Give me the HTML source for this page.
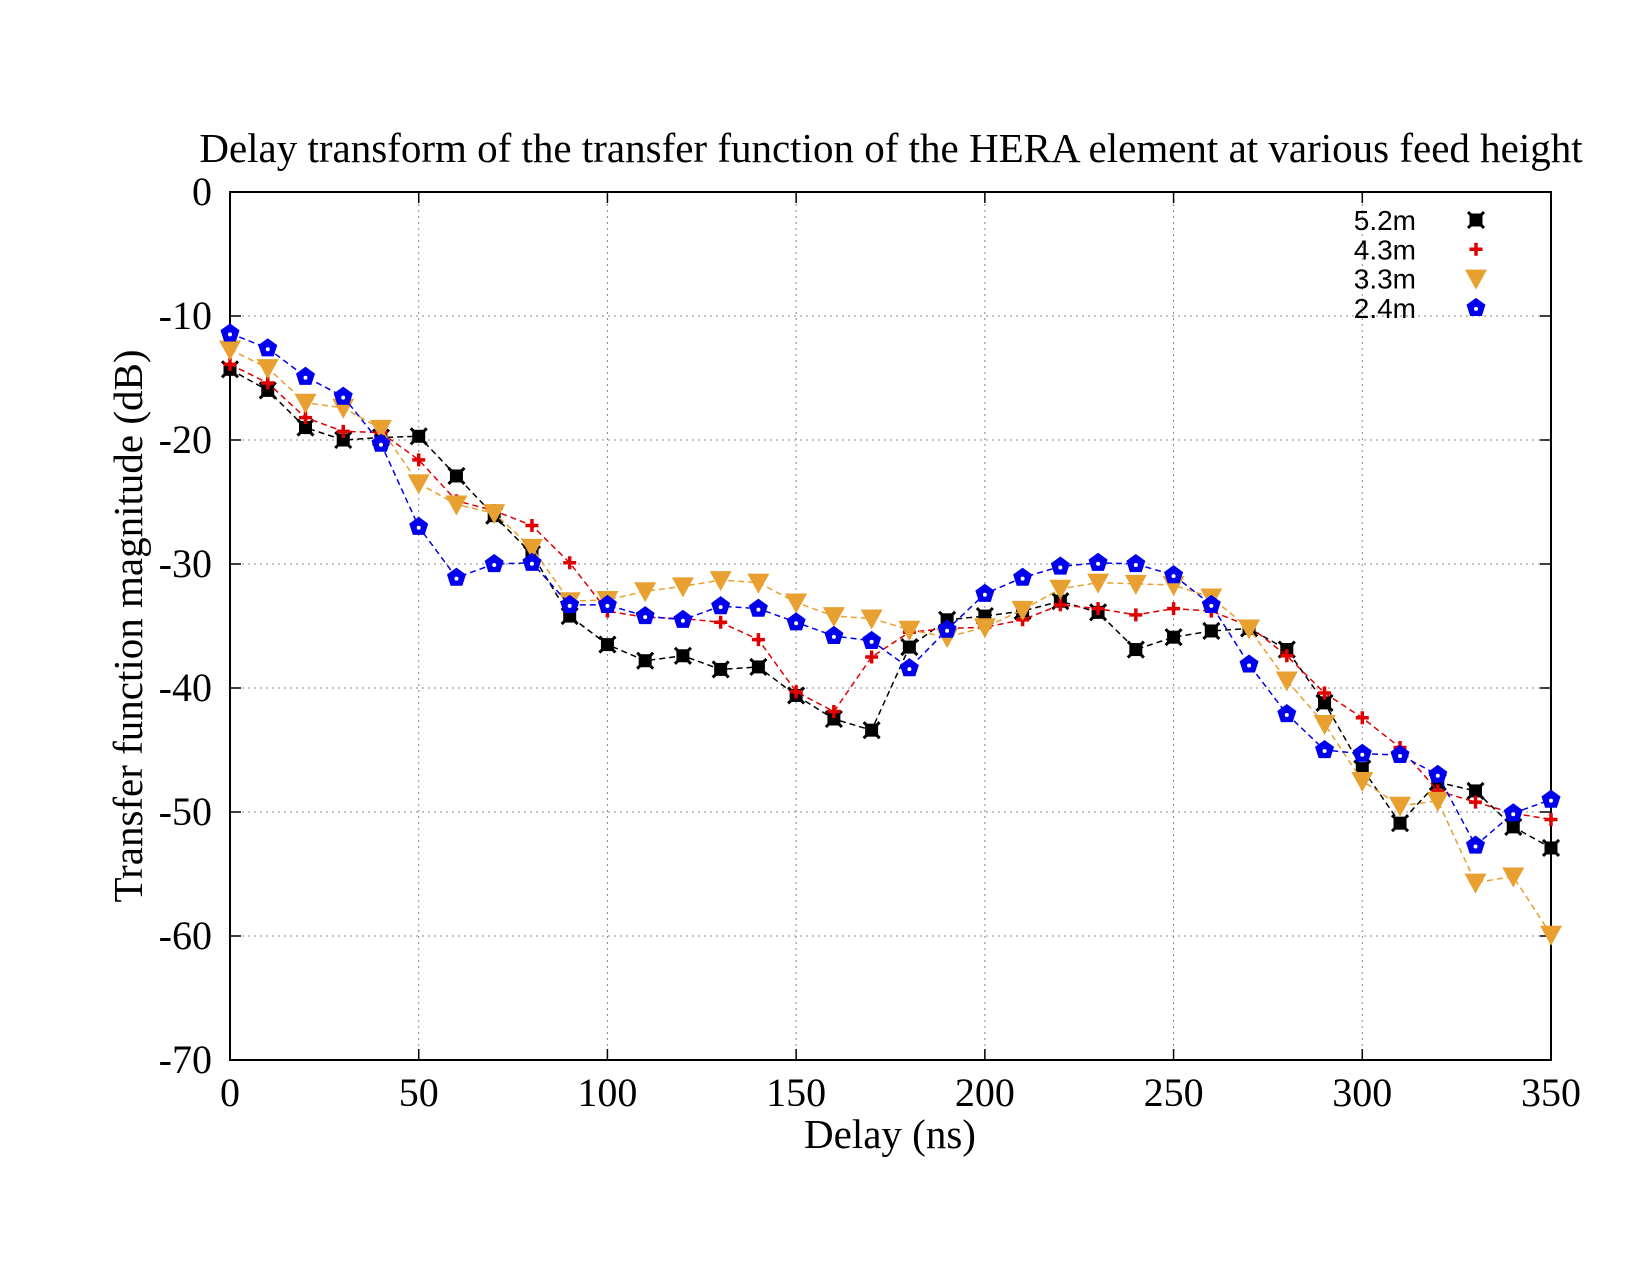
<!DOCTYPE html>
<html><head><meta charset="utf-8"><style>
body{margin:0;background:#fff}
svg text{font-family:"Liberation Serif",serif}
</style></head><body>
<svg id="chart" width="1650" height="1275" xmlns="http://www.w3.org/2000/svg"></svg>
<script>
const delays=[0,10,20,30,40,50,60,70,80,90,100,110,120,130,140,150,160,170,180,190,200,210,220,230,240,250,260,270,280,290,300,310,320,330,340,350];
const s52=[-14.3,-16.0,-19.0,-20.0,-19.8,-19.7,-22.9,-26.1,-29.2,-34.2,-36.5,-37.8,-37.4,-38.5,-38.3,-40.6,-42.5,-43.4,-36.7,-34.5,-34.2,-33.8,-33.0,-33.9,-36.9,-35.9,-35.4,-35.2,-36.9,-41.2,-46.5,-50.9,-47.6,-48.3,-51.2,-52.9];
const s43=[-13.9,-15.4,-18.2,-19.3,-19.4,-21.6,-24.9,-25.7,-26.9,-29.9,-33.8,-34.3,-34.4,-34.7,-36.1,-40.3,-41.9,-37.5,-35.5,-35.2,-35.1,-34.5,-33.3,-33.6,-34.1,-33.6,-33.8,-35.0,-37.4,-40.4,-42.4,-44.8,-48.3,-49.2,-50.1,-50.6];
const s33=[-12.7,-14.2,-17.0,-17.4,-19.1,-23.5,-25.2,-25.9,-28.7,-33.0,-32.9,-32.2,-31.8,-31.3,-31.5,-33.1,-34.2,-34.4,-35.3,-35.9,-35.1,-33.7,-32.0,-31.5,-31.6,-31.7,-32.7,-35.2,-39.4,-42.9,-47.5,-49.5,-49.1,-55.7,-55.2,-59.9];
const s24=[-11.4,-12.6,-14.9,-16.5,-20.3,-27.0,-31.1,-30.0,-29.9,-33.3,-33.3,-34.2,-34.5,-33.4,-33.6,-34.7,-35.8,-36.2,-38.4,-35.3,-32.4,-31.1,-30.2,-29.9,-30.0,-30.9,-33.3,-38.1,-42.1,-45.0,-45.3,-45.4,-47.0,-52.7,-50.1,-49.0];
const xTicks=[0,50,100,150,200,250,300,350];
const yTicks=[0,-10,-20,-30,-40,-50,-60,-70];
const L=230,R=1551,T=192,B=1060;
const X=v=>L+(v-0)/350*(R-L);
const Y=v=>T+(0-v)/70*(B-T);
const NS="http://www.w3.org/2000/svg";
const svg=document.getElementById('chart');
function mk(tag,at,parent){const e=document.createElementNS(NS,tag);for(const k in at)e.setAttribute(k,at[k]);(parent||svg).appendChild(e);return e;}
xTicks.forEach(t=>{if(t>0&&t<350){const g=mk('line',{x1:X(t),x2:X(t),y1:T,y2:B,stroke:'#888','stroke-width':1,'stroke-dasharray':'2,4'});

}
const tk=mk('text',{x:X(t),y:1106,'font-size':40,'text-anchor':'middle'});tk.textContent=t;


mk('line',{x1:X(t),x2:X(t),y1:B,y2:B-11,stroke:'#000','stroke-width':1.5});
mk('line',{x1:X(t),x2:X(t),y1:T,y2:T+11,stroke:'#000','stroke-width':1.5});});
yTicks.forEach(t=>{if(t<0&&t>-70){const g=mk('line',{x1:L,x2:R,y1:Y(t),y2:Y(t),stroke:'#888','stroke-width':1,'stroke-dasharray':'2,4'});

}
const tk=mk('text',{x:212,y:Y(t)+13,'font-size':40,'text-anchor':'end'});tk.textContent=t;


mk('line',{x1:L,x2:L+11,y1:Y(t),y2:Y(t),stroke:'#000','stroke-width':1.5});
mk('line',{x1:R,x2:R-11,y1:Y(t),y2:Y(t),stroke:'#000','stroke-width':1.5});});
const fr=mk('rect',{x:L,y:T,width:R-L,height:B-T,fill:'none',stroke:'#000','stroke-width':2});


const ti=mk('text',{x:891,y:162,'font-size':41,'text-anchor':'middle'});ti.textContent='Delay transform of the transfer function of the HERA element at various feed height';


const xt=mk('text',{x:890,y:1148,'font-size':41,'text-anchor':'middle'});xt.textContent='Delay (ns)';


const yt=mk('text',{x:0,y:0,'font-size':41,'text-anchor':'middle',transform:'translate(142,626) rotate(-90)'});yt.textContent='Transfer function magnitude (dB)';


function marker(type,x,y,c,p){
 if(type==='sq'){mk('rect',{x:x-6.5,y:y-6.5,width:13,height:13,fill:c},p);mk('path',{d:`M${x-8} ${y-8}L${x+8} ${y+8}M${x+8} ${y-8}L${x-8} ${y+8}`,stroke:c,'stroke-width':3},p);}
 else if(type==='plus'){mk('path',{d:`M${x-6.5} ${y}H${x+6.5}M${x} ${y-6.5}V${y+6.5}`,stroke:c,'stroke-width':3.5},p);}
 else if(type==='tri'){mk('path',{d:`M${x-11} ${y-9}H${x+11}L${x} ${y+11}Z`,fill:c},p);}
 else {let d='';for(let i=0;i<5;i++){const a=-Math.PI/2+i*2*Math.PI/5;d+=(i?'L':'M')+(x+10*Math.cos(a))+' '+(y+10*Math.sin(a));}mk('path',{d:d+'Z',fill:c},p);mk('circle',{cx:x,cy:y+1,r:2,fill:'#fff'},p);}
}
const series=[['5.2m',s52,'#000','sq'],['4.3m',s43,'#e00000','plus'],['3.3m',s33,'#e8a030','tri'],['2.4m',s24,'#0000ee','pent']];
series.forEach(([name,vals,c,m],si)=>{
 const g=mk('g',{});
 
 
 mk('polyline',{points:delays.map((d,i)=>X(d)+','+Y(vals[i])).join(' '),fill:'none',stroke:c,'stroke-width':1.5,'stroke-dasharray':'6,4'},g);
 delays.forEach((d,i)=>marker(m,X(d),Y(vals[i]),c,g));
 const lg=mk('g',{});
 
 
 const ly=220+si*29.3;
 const lt=mk('text',{x:1416,y:ly+10,'font-size':28,'text-anchor':'end'},lg);lt.textContent=name;
 lt.setAttribute('style','font-family:"Liberation Sans",sans-serif');
 marker(m,1476,ly,c,lg);
});
</script>
</body></html>
